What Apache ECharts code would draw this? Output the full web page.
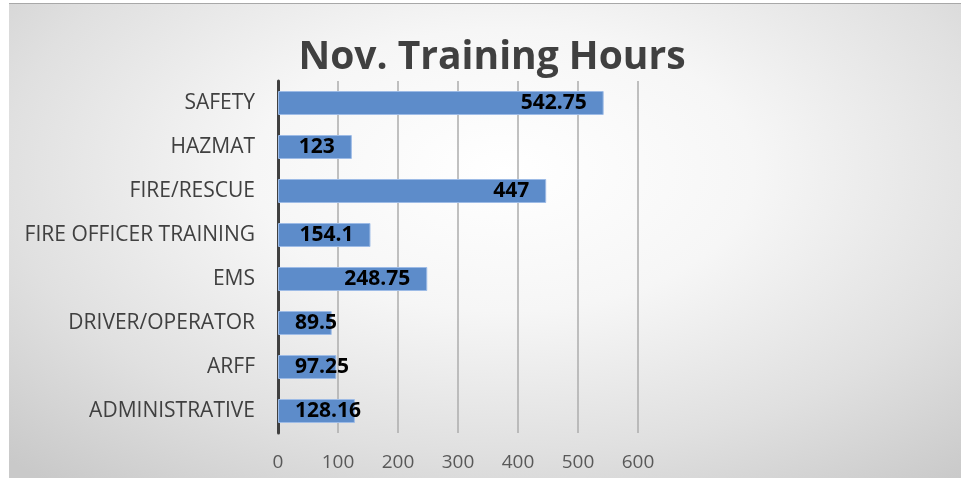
<!DOCTYPE html>
<html>
<head>
<meta charset="utf-8">
<script src="https://cdn.jsdelivr.net/npm/echarts@6/dist/echarts.min.js"></script>
<style>
  html, body { margin: 0; padding: 0; background: #ffffff; }
  #panel {
    position: absolute; left: 9px; top: 3px; width: 952px; height: 475px;
    border-top: 1px solid #a8a8a8;
    background: radial-gradient(ellipse 75% 85% at 52% 35%, #ffffff 0%, #f6f6f6 35%, #e0e0e0 70%, #c9c9c9 100%);
  }
  #chart { position: absolute; left: 0; top: 0; width: 961px; height: 478px; }
</style>
</head>
<body>
<div id="panel"></div>
<div id="chart"></div>
<script>
const titleText = "Nov. Training Hours";
const categories = ["SAFETY", "HAZMAT", "FIRE/RESCUE", "FIRE OFFICER TRAINING", "EMS", "DRIVER/OPERATOR", "ARFF", "ADMINISTRATIVE"];
const hours = [542.75, 123, 447, 154.1, 248.75, 89.5, 97.25, 128.16];
const xTicks = { min: 0, max: 600, interval: 100 };

const FONT = "'Open Sans', sans-serif";
const pxPerUnit = 360 / (xTicks.max - xTicks.min);
const seriesData = hours.map(function (v) {
  const txtW = String(v).length * 11;
  const fitsRight = v * pxPerUnit - 17 - txtW >= 17;
  return fitsRight ? { value: v } : { value: v, label: { position: 'insideLeft' } };
});

const chart = echarts.init(document.getElementById('chart'), null, { renderer: 'canvas' });
chart.setOption({
  backgroundColor: 'transparent',
  animation: false,
  title: {
    text: titleText,
    left: 487,
    textAlign: 'center',
    top: 33,
    textStyle: { fontFamily: FONT, fontWeight: 'bold', fontSize: 39, color: '#404040' }
  },
  grid: { left: 278, right: 323, top: 81, bottom: 45, containLabel: false },
  xAxis: {
    type: 'value',
    min: xTicks.min, max: xTicks.max, interval: xTicks.interval,
    axisLine: { show: false },
    axisTick: { show: false },
    splitLine: { show: true, lineStyle: { color: '#adadad', width: 1.5 } },
    axisLabel: { color: '#595959', fontFamily: FONT, fontSize: 19, margin: 20 }
  },
  yAxis: {
    type: 'category',
    data: categories,
    inverse: true,
    axisLine: { show: true, lineStyle: { color: '#404040', width: 3 } },
    axisTick: { show: false },
    splitLine: { show: false },
    axisLabel: { color: '#404040', fontFamily: FONT, fontSize: 21, margin: 23 }
  },
  series: [{
    type: 'bar',
    data: seriesData,
    barWidth: 24,
    itemStyle: { color: '#5d8cca', borderColor: '#9dbbe6', borderWidth: 1 },
    label: {
      show: true,
      position: 'insideRight',
      distance: 17,
      color: '#000000',
      fontFamily: FONT,
      fontWeight: 'bold',
      fontSize: 21
    }
  }]
});
</script>
</body>
</html>
